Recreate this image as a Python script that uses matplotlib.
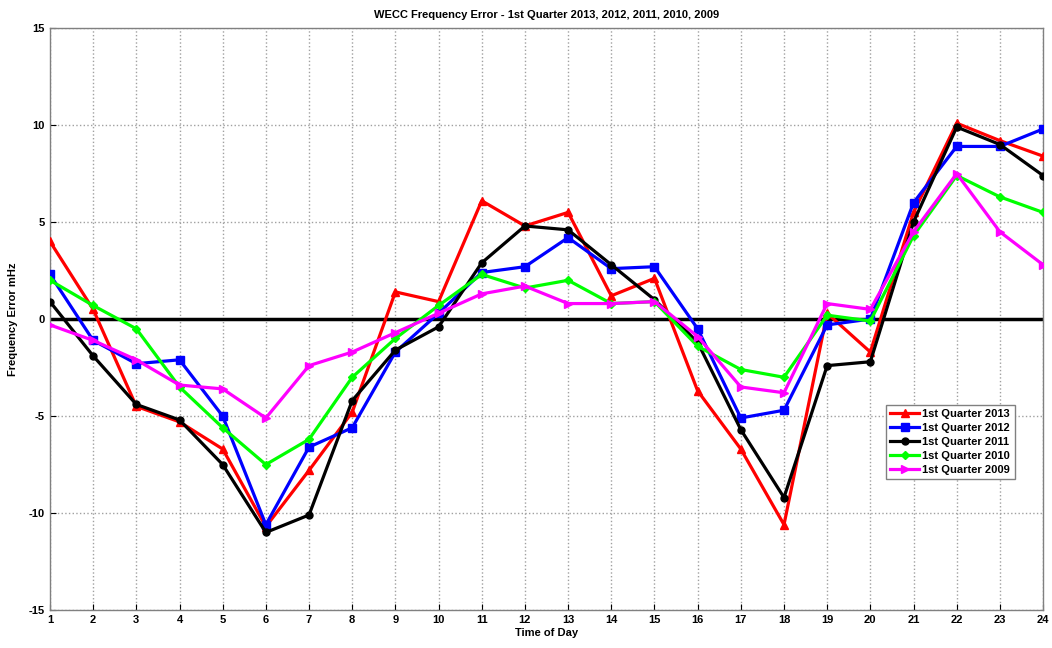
import matplotlib
matplotlib.use('Agg')
import matplotlib.pyplot as plt

plt.rcParams['font.family'] = ['Liberation Sans', 'DejaVu Sans']
plt.rcParams['font.weight'] = 'bold'
plt.rcParams['axes.unicode_minus'] = False

hours = list(range(1, 25))

q1_2013 = [4.0, 0.5, -4.5, -5.3, -6.7, -10.7, -7.8, -4.8, 1.4, 0.9, 6.1, 4.8,
           5.5, 1.2, 2.1, -3.7, -6.7, -10.6, 0.3, -1.7, 5.5, 10.1, 9.2, 8.4]
q1_2012 = [2.3, -1.1, -2.3, -2.1, -5.0, -10.6, -6.6, -5.6, -1.7, 0.3, 2.4, 2.7,
           4.2, 2.6, 2.7, -0.5, -5.1, -4.7, -0.3, 0.0, 6.0, 8.9, 8.9, 9.8]
q1_2011 = [0.9, -1.9, -4.4, -5.2, -7.5, -11.0, -10.1, -4.2, -1.6, -0.4, 2.9, 4.8,
           4.6, 2.8, 1.0, -1.2, -5.7, -9.2, -2.4, -2.2, 5.0, 9.9, 9.0, 7.4]
q1_2010 = [2.0, 0.7, -0.5, -3.5, -5.6, -7.5, -6.2, -3.0, -1.0, 0.7, 2.3, 1.6,
           2.0, 0.8, 0.9, -1.4, -2.6, -3.0, 0.2, -0.1, 4.3, 7.4, 6.3, 5.5]
q1_2009 = [-0.3, -1.1, -2.1, -3.4, -3.6, -5.1, -2.4, -1.7, -0.7, 0.3, 1.3, 1.7,
           0.8, 0.8, 0.9, -0.9, -3.5, -3.8, 0.8, 0.5, 4.5, 7.5, 4.5, 2.8]

series = [
    ('1st Quarter 2013', q1_2013, '#ff0000', '^', 6),
    ('1st Quarter 2012', q1_2012, '#0000ff', 's', 5.5),
    ('1st Quarter 2011', q1_2011, '#000000', 'o', 5),
    ('1st Quarter 2010', q1_2010, '#00ff00', 'D', 4.5),
    ('1st Quarter 2009', q1_2009, '#ff00ff', '>', 6),
]

fig = plt.figure(figsize=(10.52, 6.48), dpi=100)
ax = fig.add_axes([0.0475, 0.0586, 0.944, 0.898])
ax.set_axisbelow(True)

ax.axhline(0, color='black', lw=2.5, zorder=2)
for label, vals, col, mk, ms in series:
    ax.plot(hours, vals, color=col, marker=mk, lw=2.3, ms=ms, label=label, zorder=3)

ax.set_xlim(1, 24)
ax.set_ylim(-15, 15)
ax.set_xticks(hours)
ax.set_yticks(range(-15, 16, 5))
ax.tick_params(labelsize=8, direction='in', length=4, width=0.8)
ax.grid(True, color='#a0a0a0', linestyle=':', lw=1.0, zorder=0)
for sp in ax.spines.values():
    sp.set_color('#808080')
    sp.set_linewidth(1.0)

ax.set_title('WECC Frequency Error - 1st Quarter 2013, 2012, 2011, 2010, 2009',
             fontsize=8, fontweight='bold', pad=7)
ax.set_xlabel('Time of Day', fontsize=8, fontweight='bold', labelpad=2)
ax.set_ylabel('Frequency Error mHz', fontsize=8, fontweight='bold', labelpad=8)

ax.legend(loc='lower right', bbox_to_anchor=(0.977, 0.215), fontsize=8,
          framealpha=1, fancybox=False, edgecolor='#808080',
          handlelength=2.6, borderpad=0.4, labelspacing=0.35, handletextpad=0.3)

fig.savefig('out.png', dpi=100)
